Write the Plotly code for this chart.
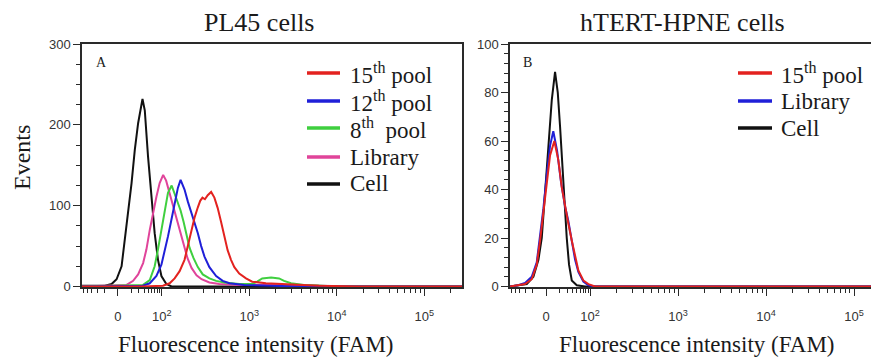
import plotly.graph_objects as go
import math

# ---------------- data (x = position on the FAM display scale: 1.5 = "0", 2 = 10^2, 3 = 10^3 ...) -------------
# Panel A: PL45 cells
pl45_15_x = [1.09, 1.784, 2.015, 2.091, 2.148, 2.205, 2.261, 2.299, 2.338, 2.375, 2.413, 2.440, 2.466, 2.494,
             2.526, 2.565, 2.602, 2.640, 2.678, 2.716, 2.753, 2.792, 2.830, 2.886, 2.963, 3.034, 3.190, 3.375,
             3.568, 3.795, 4.250, 5.43]
pl45_15_y = [0, 0, 1, 4, 10, 19, 33, 50, 68, 85, 98, 106, 110, 108,
             113, 117, 110, 97, 80, 62, 45, 33, 24, 16, 10, 6, 4, 3,
             2, 1, 0, 0]

pl45_12_x = [1.09, 1.784, 1.864, 1.940, 1.997, 2.034, 2.072, 2.110, 2.148, 2.185, 2.216, 2.261, 2.299, 2.338,
             2.375, 2.413, 2.451, 2.489, 2.545, 2.622, 2.697, 2.773, 2.943, 3.170, 3.568, 5.43]
pl45_12_y = [0, 1, 4, 13, 27, 43, 62, 82, 103, 122, 132, 120, 105, 92,
             80, 66, 50, 37, 24, 13, 7, 4, 2, 1, 0, 0]

pl45_8_x = [1.09, 1.788, 1.864, 1.920, 1.958, 1.997, 2.034, 2.072, 2.114, 2.167, 2.216, 2.250, 2.284, 2.318,
            2.364, 2.413, 2.469, 2.545, 2.622, 2.716, 2.886, 3.034, 3.091, 3.148, 3.250, 3.341, 3.398, 3.477,
            3.625, 3.795, 4.023, 5.43]
pl45_8_y = [0, 2, 8, 25, 46, 70, 91, 116, 125, 108, 94, 80, 64, 48,
            35, 24, 15, 10, 7, 5, 3, 3, 6, 10, 11, 10, 7, 4,
            2, 1, 0, 0]

pl45_lib_x = [1.09, 1.599, 1.674, 1.731, 1.788, 1.826, 1.864, 1.901, 1.940, 1.977, 2.017, 2.051, 2.091, 2.148,
              2.205, 2.250, 2.295, 2.341, 2.398, 2.455, 2.545, 2.659, 2.886, 3.568, 3.909, 4.136, 5.43]
pl45_lib_y = [0, 2, 7, 15, 29, 46, 70, 91, 111, 128, 138, 131, 115, 92,
              69, 50, 35, 23, 14, 9, 5, 3, 2, 2, 1, 0, 0]

pl45_cell_x = [1.09, 1.352, 1.428, 1.485, 1.542, 1.580, 1.617, 1.656, 1.693, 1.731, 1.781, 1.807, 1.844, 1.883,
               1.920, 1.958, 1.997, 2.053, 2.114, 5.43]
pl45_cell_y = [1, 1, 3, 9, 25, 58, 87, 128, 169, 202, 232, 218, 161, 107,
               66, 33, 13, 3, 0, 0]

# Panel B: hTERT-HPNE cells
hpne_15_x = [1.09, 1.182, 1.261, 1.337, 1.394, 1.432, 1.469, 1.508, 1.545, 1.594, 1.640, 1.678, 1.716, 1.753,
             1.792, 1.830, 1.867, 1.924, 1.981, 2.057, 5.3]
hpne_15_y = [0, 0.5, 1, 3, 9, 19, 30, 43, 54, 60, 52, 41, 33, 26,
             19, 12, 6.6, 2.5, 1, 0, 0]

hpne_lib_x = [1.09, 1.182, 1.261, 1.337, 1.394, 1.432, 1.469, 1.508, 1.545, 1.582, 1.625, 1.670, 1.716, 1.753,
              1.792, 1.830, 1.867, 1.924, 1.981, 2.057, 5.3]
hpne_lib_y = [0, 0.5, 1.5, 4, 10, 21, 32, 46, 58, 64, 56, 43, 33, 27,
              18, 11, 6, 2, 0.5, 0, 0]

hpne_cell_x = [1.09, 1.281, 1.356, 1.413, 1.451, 1.481, 1.508, 1.534, 1.565, 1.602, 1.633, 1.659, 1.685, 1.708,
               1.735, 1.761, 1.792, 1.849, 1.943, 5.3]
hpne_cell_y = [0, 1, 4, 11, 20, 34, 48, 62, 77, 88.5, 80, 66, 49, 34,
               20, 9, 2.5, 0.5, 0, 0]

x_tick_vals = [1.5, 2, 3, 4, 5]
x_tick_text = ["0", "10<sup>2</sup>", "10<sup>3</sup>", "10<sup>4</sup>", "10<sup>5</sup>"]

legend_a = ["15<sup>th</sup> pool", "12<sup>th</sup> pool", "8<sup>th</sup>  pool", "Library", "Cell"]
legend_b = ["15<sup>th</sup> pool", "Library", "Cell"]

# ---------------- styling ----------------
OFF = 8                      # page body margin of the html document
FW, FH = 879 - OFF, 361 - OFF
RED, BLUE, GREEN, PINK, BLACK = "#e3221f", "#1f1fd8", "#3fcf3f", "#e0449a", "#111111"
SERIF = "Liberation Serif"
SANS = "Liberation Sans"
AX = "#2a2a2a"

def px(x):
    return (x - OFF) / FW

def py(y):
    return 1 - (y - OFF) / FH

# minor tick positions on the display scale
minor = []
for k in range(2, 10):
    minor.append(1.5 + 0.5 * math.log10(k))
    minor.append(1.5 - 0.5 * math.log10(k))
    for d in (2, 3, 4, 5):
        minor.append(d + math.log10(k))

fig = go.Figure()

def add(xs, ys, color, xa, ya):
    fig.add_trace(go.Scatter(x=xs, y=ys, mode="lines", line=dict(color=color, width=2),
                             xaxis=xa, yaxis=ya, showlegend=False, hoverinfo="skip"))

# panel A (draw order so red on top)
add(pl45_cell_x, pl45_cell_y, BLACK, "x", "y")
add(pl45_lib_x, pl45_lib_y, PINK, "x", "y")
add(pl45_8_x, pl45_8_y, GREEN, "x", "y")
add(pl45_12_x, pl45_12_y, BLUE, "x", "y")
add(pl45_15_x, pl45_15_y, RED, "x", "y")
# panel B
add(hpne_cell_x, hpne_cell_y, BLACK, "x2", "y2")
add(hpne_lib_x, hpne_lib_y, BLUE, "x2", "y2")
add(hpne_15_x, hpne_15_y, RED, "x2", "y2")

ydom = [py(287), py(44)]

def xaxis(domain, rng, anchor):
    return dict(domain=domain, range=rng, anchor=anchor, showgrid=False, zeroline=False,
                automargin=False,
                showline=True, linecolor=AX, linewidth=1.5, mirror=True,
                tickmode="array", tickvals=x_tick_vals, ticktext=x_tick_text,
                ticks="outside", ticklen=7, tickwidth=1.2, tickcolor=AX,
                ticklabelstandoff=10,
                tickfont=dict(family=SANS, size=13, color="#333333"),
                minor=dict(tickmode="array", tickvals=minor, ticks="outside", ticklen=4,
                           tickwidth=1, tickcolor=AX, showgrid=False))

def yaxis(domain, rng, anchor, dtick, mdtick):
    return dict(domain=domain, range=rng, anchor=anchor, showgrid=False, zeroline=False,
                automargin=False,
                showline=True, linecolor=AX, linewidth=1.5, mirror=True,
                tickmode="linear", tick0=0, dtick=dtick,
                ticks="outside", ticklen=7, tickwidth=1.2, tickcolor=AX,
                tickfont=dict(family=SANS, size=13, color="#333333"),
                minor=dict(tickmode="linear", tick0=0, dtick=mdtick, ticks="outside", ticklen=4,
                           tickwidth=1, tickcolor=AX, showgrid=False))

fig.update_layout(
    width=FW, height=FH, autosize=False,
    margin=dict(l=0, r=0, t=0, b=0, pad=0, autoexpand=False),
    paper_bgcolor="white", plot_bgcolor="white", showlegend=False,
    xaxis=xaxis([px(82), px(462)], [1.09, 5.43], "y"),
    yaxis=yaxis(ydom, [-0.6, 300], "x", 100, 25),
    xaxis2=xaxis([px(510), 1.0], [1.09, 5.284], "y2"),
    yaxis2=yaxis(ydom, [-0.2, 100], "x2", 20, 4),
)

ann = []
def text(x, y, s, size, family=SERIF, xanchor="center", angle=0, color="#1a1a1a"):
    ann.append(dict(x=px(x), y=py(y), xref="paper", yref="paper", text=s, showarrow=False,
                    xanchor=xanchor, yanchor="middle", textangle=angle,
                    font=dict(family=family, size=size, color=color)))

text(259, 23, "PL45 cells", 26)
text(682, 23, "hTERT-HPNE cells", 26)
text(22, 158, "Events", 24, angle=-90)
text(256, 344, "Fluorescence intensity (FAM)", 23)
text(697, 344, "Fluorescence intensity (FAM)", 23)
text(101, 62, "A", 14)
text(527, 62, "B", 14)

shapes = []
def legend(x0, x1, xt, ys, labels, colors):
    for y, lab, c in zip(ys, labels, colors):
        shapes.append(dict(type="line", xref="paper", yref="paper", x0=px(x0), x1=px(x1),
                           y0=py(y), y1=py(y), line=dict(color=c, width=3.5)))
        text(xt, y, lab, 23, xanchor="left")

legend(307, 340, 348, [73, 101, 128, 157, 184], legend_a, [RED, BLUE, GREEN, PINK, BLACK])
legend(738, 772, 779, [73, 101, 128], legend_b, [RED, BLUE, BLACK])

fig.update_layout(annotations=ann, shapes=shapes)
fig.write_html("out.html")
